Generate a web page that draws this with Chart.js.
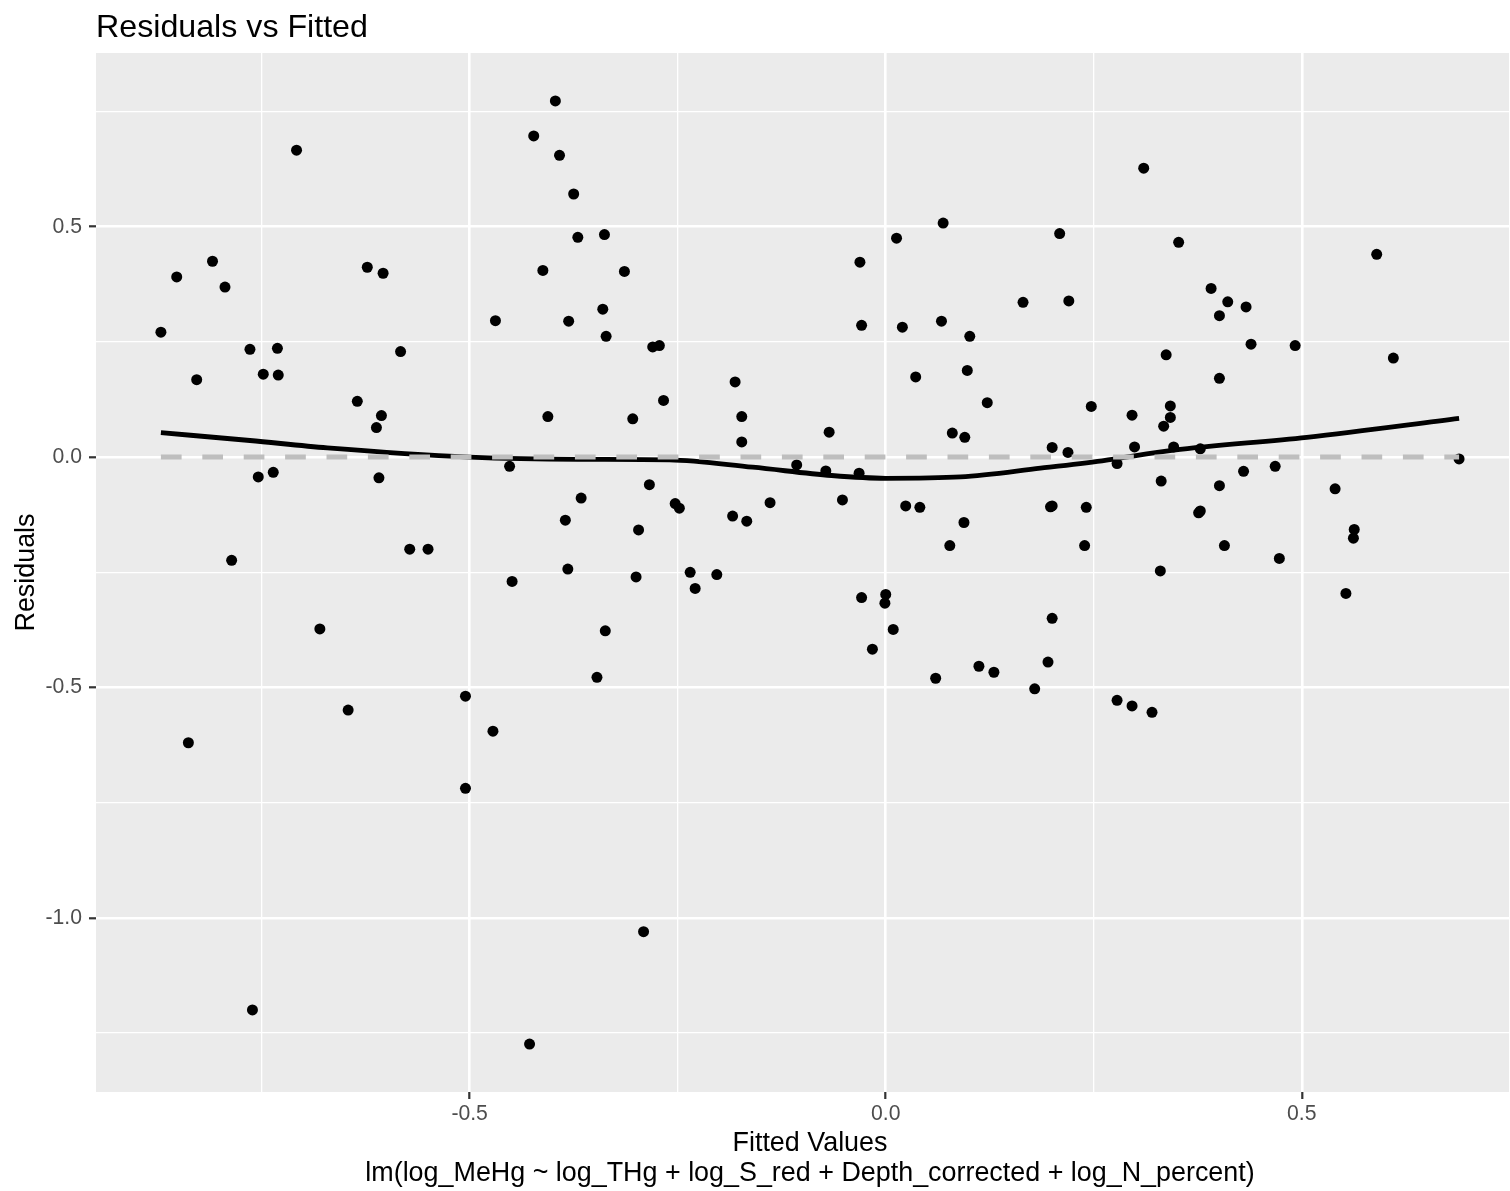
<!DOCTYPE html>
<html>
<head>
<meta charset="utf-8">
<title>Residuals vs Fitted</title>
<script src="https://cdn.jsdelivr.net/npm/chart.js@4.4.1/dist/chart.umd.min.js"></script>
<style>
  html, body { margin: 0; padding: 0; background: #ffffff; overflow: hidden; }
  #wrap { width: 1510px; height: 1191px; overflow: hidden; position: relative; }
  canvas { display: block; }
</style>
</head>
<body>
<div id="wrap"><canvas id="residualPlot" width="1537" height="1191"></canvas></div>
<script>
// Fitted values of the model (x) and their residuals (y)
const fittedValues = [
  -0.871, -0.852, -0.838, -0.828, -0.809, -0.794, -0.786, -0.764, -0.761, -0.754,
  -0.748, -0.736, -0.731, -0.730, -0.708, -0.680, -0.646, -0.635, -0.623, -0.612,
  -0.609, -0.606, -0.604, -0.583, -0.572, -0.550, -0.505, -0.505, -0.472, -0.469,
  -0.452, -0.449, -0.428, -0.423, -0.412, -0.406, -0.397, -0.392, -0.385, -0.382,
  -0.381, -0.375, -0.370, -0.366, -0.347, -0.340, -0.338, -0.337, -0.336, -0.314,
  -0.304, -0.300, -0.297, -0.291, -0.284, -0.280, -0.272, -0.267, -0.253, -0.248,
  -0.235, -0.229, -0.203, -0.184, -0.181, -0.173, -0.173, -0.167, -0.139, -0.107,
  -0.072, -0.068, -0.052, -0.032, -0.031, -0.029, -0.029, -0.016, 0.000, -0.001,
  0.009, 0.013, 0.020, 0.024, 0.036, 0.041, 0.060, 0.067, 0.069, 0.077,
  0.080, 0.094, 0.095, 0.098, 0.101, 0.112, 0.122, 0.130, 0.165, 0.179,
  0.195, 0.198, 0.200, 0.200, 0.200, 0.209, 0.219, 0.220, 0.239, 0.241,
  0.247, 0.278, 0.278, 0.296, 0.296, 0.299, 0.310, 0.320, 0.330, 0.331,
  0.334, 0.337, 0.342, 0.342, 0.346, 0.352, 0.376, 0.378, 0.378, 0.391,
  0.401, 0.401, 0.401, 0.407, 0.411, 0.430, 0.433, 0.439, 0.468, 0.473,
  0.492, 0.540, 0.553, 0.562, 0.563, 0.590, 0.610, 0.689
];

const residuals = [
  0.271, 0.391, -0.620, 0.168, 0.425, 0.369, -0.224, 0.234, -1.200, -0.043,
  0.180, -0.033, 0.236, 0.178, 0.666, -0.373, -0.549, 0.121, 0.412, 0.064,
  -0.045, 0.090, 0.399, 0.229, -0.200, -0.200, -0.519, -0.719, -0.595, 0.296,
  -0.020, -0.270, -1.274, 0.697, 0.405, 0.088, 0.773, 0.655, -0.137, -0.243,
  0.295, 0.571, 0.477, -0.089, -0.478, 0.321, 0.483, -0.377, 0.262, 0.403,
  0.083, -0.260, -0.158, -1.030, -0.060, 0.239, 0.242, 0.123, -0.101, -0.111,
  -0.250, -0.285, -0.255, -0.128, 0.163, 0.088, 0.033, -0.139, -0.099, -0.017,
  -0.030, 0.054, -0.093, -0.035, 0.423, 0.286, -0.305, -0.417, -0.298, -0.317,
  -0.374, 0.475, 0.282, -0.106, 0.174, -0.109, -0.480, 0.295, 0.508, -0.192,
  0.052, -0.142, 0.043, 0.188, 0.262, -0.454, 0.118, -0.467, 0.336, -0.503,
  -0.445, -0.108, -0.106, 0.021, -0.350, 0.485, 0.010, 0.339, -0.192, -0.109,
  0.110, -0.014, -0.528, 0.091, -0.540, 0.022, 0.627, -0.554, -0.247, -0.052,
  0.067, 0.222, 0.086, 0.111, 0.022, 0.466, -0.121, 0.018, -0.117, 0.366,
  0.307, 0.171, -0.062, -0.192, 0.337, -0.031, 0.326, 0.245, -0.020, -0.220,
  0.242, -0.069, -0.296, -0.176, -0.157, 0.440, 0.215, -0.004
];

// Loess smoother through the residuals
const smoothFitted = [-0.871, -0.764, -0.671, -0.500, -0.370, -0.260, -0.160, -0.065, 0.000, 0.090, 0.186, 0.260, 0.346, 0.506, 0.689];
const smoothResid  = [0.053, 0.036, 0.020, 0.000, -0.005, -0.006, -0.022, -0.040, -0.046, -0.043, -0.024, -0.008, 0.015, 0.043, 0.084];

// Grid / tick positions (major ticks carry a label, minor ones only a grid line)
const xTickValues = [-0.75, -0.5, -0.25, 0, 0.25, 0.5, 0.75];
const xTickLabels = ['', '-0.5', '', '0.0', '', '0.5', ''];
const yTickValues = [-1.25, -1.0, -0.75, -0.5, -0.25, 0, 0.25, 0.5, 0.75];
const yTickLabels = ['', '-1.0', '', '-0.5', '', '0.0', '', '0.5', ''];

const plotTitle = 'Residuals vs Fitted';
const xTitleLines = ['Fitted Values', 'lm(log_MeHg ~ log_THg + log_S_red + Depth_corrected + log_N_percent)'];
const yTitle = 'Residuals';

const points = fittedValues.map((x, i) => ({ x: x, y: residuals[i] }));
const smoothPoints = smoothFitted.map((x, i) => ({ x: x, y: smoothResid[i] }));
const xLo = Math.min(...fittedValues);
const xHi = Math.max(...fittedValues);
const zeroLine = [{ x: xLo, y: 0 }, { x: xHi, y: 0 }];

Chart.defaults.font.family = "'Liberation Sans', Arial, Helvetica, sans-serif";

// Grey panel behind the grid
const panelBackground = {
  id: 'panelBackground',
  beforeDraw(chart) {
    const a = chart.chartArea;
    const ctx = chart.ctx;
    ctx.save();
    ctx.fillStyle = '#EBEBEB';
    ctx.fillRect(a.left, a.top, a.right - a.left, a.bottom - a.top);
    ctx.restore();
  }
};

function gridFor(labels) {
  const isMajor = c => c.tick && labels[c.index] !== '';
  return {
    color: '#FFFFFF',
    lineWidth: c => (isMajor(c) ? 2.6 : 1.3),
    drawTicks: true,
    tickLength: 7,
    tickWidth: 2.2,
    tickColor: c => (isMajor(c) ? '#333333' : 'rgba(0,0,0,0)')
  };
}

new Chart(document.getElementById('residualPlot'), {
  type: 'scatter',
  data: {
    datasets: [
      {
        label: 'zero',
        data: zeroLine,
        showLine: true,
        borderColor: '#BEBEBE',
        borderWidth: 5,
        borderDash: [20.7, 20.7],
        borderCapStyle: 'butt',
        pointRadius: 0,
        order: 1
      },
      {
        label: 'loess',
        data: smoothPoints,
        showLine: true,
        borderColor: '#000000',
        borderWidth: 4.8,
        cubicInterpolationMode: 'monotone',
        pointRadius: 0,
        order: 2
      },
      {
        label: 'residuals',
        data: points,
        pointRadius: 5.5,
        pointBorderWidth: 0,
        pointBackgroundColor: '#000000',
        backgroundColor: '#000000',
        order: 3
      }
    ]
  },
  options: {
    responsive: false,
    devicePixelRatio: 1,
    animation: false,
    events: [],
    layout: { padding: { left: 0, right: 13, top: 0, bottom: 0 } },
    plugins: {
      legend: { display: false },
      tooltip: { enabled: false },
      title: {
        display: true,
        text: plotTitle,
        align: 'start',
        fullSize: false,
        color: '#000000',
        font: { size: 32.2, weight: 'normal', lineHeight: 1.2 },
        padding: { top: 8.7, bottom: 5.66 }
      }
    },
    scales: {
      x: {
        type: 'linear',
        min: -0.949,
        max: 0.767,
        border: { display: false },
        grid: gridFor(xTickLabels),
        afterBuildTicks: s => { s.ticks = xTickValues.map(v => ({ value: v })); },
        afterFit: s => { s.height = 99; },
        ticks: {
          autoSkip: false,
          maxRotation: 0,
          padding: 2,
          color: '#4D4D4D',
          font: { size: 21.2 },
          callback: (v, i) => xTickLabels[i]
        },
        title: {
          display: true,
          text: xTitleLines,
          color: '#000000',
          font: { size: 26.9, lineHeight: 1.123 },
          padding: { top: 0, bottom: 2 }
        }
      },
      y: {
        type: 'linear',
        min: -1.378,
        max: 0.877,
        border: { display: false },
        grid: gridFor(yTickLabels),
        afterBuildTicks: s => { s.ticks = yTickValues.map(v => ({ value: v })); },
        afterFit: s => { s.width = 96; },
        ticks: {
          autoSkip: false,
          padding: 7,
          color: '#4D4D4D',
          font: { size: 21.2 },
          callback: (v, i) => yTickLabels[i]
        },
        title: {
          display: true,
          text: yTitle,
          color: '#000000',
          font: { size: 26.9, lineHeight: 1.2 },
          padding: { top: 10.7, bottom: 0 }
        }
      }
    }
  },
  plugins: [panelBackground]
});
</script>
</body>
</html>
